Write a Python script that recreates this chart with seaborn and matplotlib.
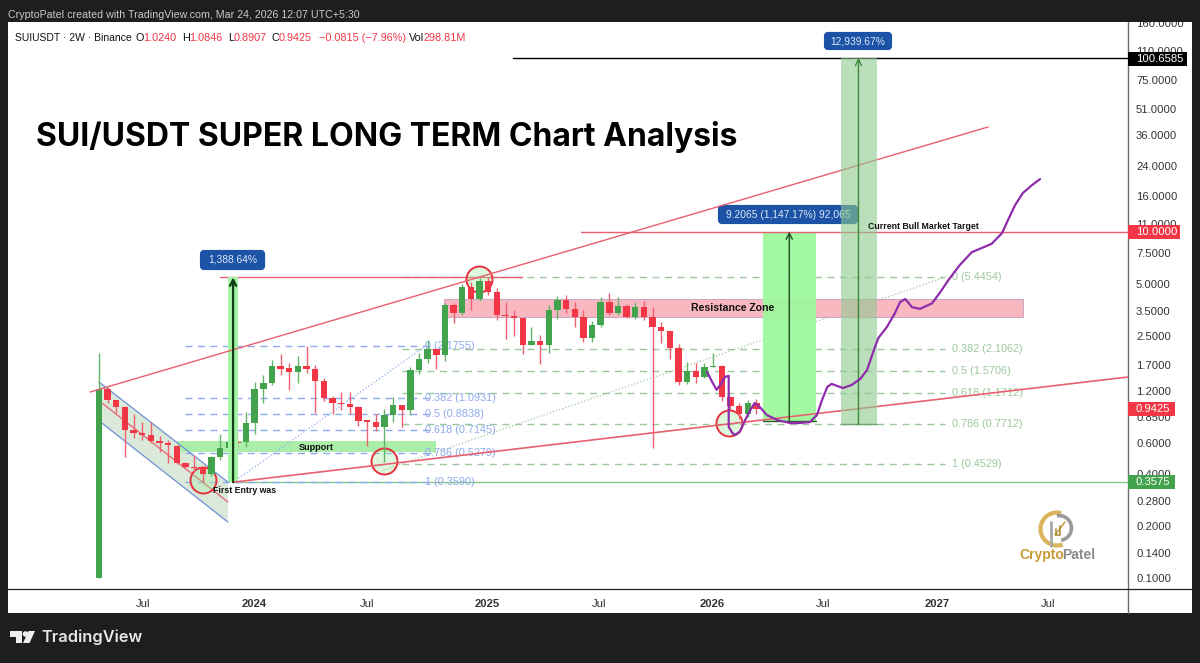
import matplotlib
matplotlib.use("Agg")
import matplotlib.pyplot as plt
import seaborn as sns
from matplotlib.patches import Rectangle, FancyBboxPatch, Polygon, Arc, Circle
from matplotlib.lines import Line2D
from matplotlib.transforms import Affine2D

# ---- candle data (2W bars) ----
opens = [0.10,1.23,1.07,0.97,0.715,0.69,0.67,0.62,0.60,0.58,0.46,0.44,0.44,0.40,0.50,0.565,0.61,0.61,0.78,1.24,1.33,1.67,1.63,1.55,1.67,1.62,1.37,1.10,1.03,1.01,0.97,0.81,0.80,0.745,0.87,1.0,0.93,1.59,1.83,2.10,1.94,3.77,3.4,4.8,4.1,5.2,4.45,3.3,3.25,3.15,2.2,2.33,2.2,3.53,4.03,3.57,3.2,2.42,2.89,3.9,3.4,3.7,3.2,3.65,3.2,2.8,2.65,2.13,1.35,1.57,1.45,1.66,1.68,1.11,0.98,0.885,1.024]
highs = [2.0,1.26,1.07,0.99,0.89,0.80,0.80,0.66,0.626,0.586,0.465,0.51,0.44,0.505,0.68,0.72,0.72,0.91,1.35,1.49,1.81,1.97,1.75,1.91,2.18,1.70,1.43,1.13,1.18,1.18,0.99,0.82,0.89,0.95,1.11,1.0,1.65,1.99,2.37,2.12,3.85,3.85,4.95,5.15,5.4,5.45,4.75,3.9,3.53,3.17,2.8,2.53,3.77,4.25,4.3,3.9,3.53,3.03,4.2,4.4,4.2,3.8,3.9,3.95,3.65,3.0,2.67,2.25,1.77,1.75,1.75,1.99,1.70,1.12,1.02,1.06,1.0846]
lows = [0.10,1.03,0.90,0.50,0.64,0.626,0.60,0.535,0.46,0.455,0.43,0.41,0.36,0.39,0.48,0.53,0.555,0.57,0.68,1.03,1.30,1.49,1.22,1.34,1.52,0.90,1.05,0.89,0.93,0.89,0.75,0.58,0.71,0.47,0.80,0.745,0.87,1.51,1.75,1.62,1.79,2.95,3.3,3.53,4.0,4.3,3.09,2.4,2.5,1.97,2.2,1.72,2.0,3.13,3.4,2.8,2.3,2.3,2.8,3.3,3.3,3.17,3.13,3.09,0.56,2.27,1.83,1.3,1.31,1.34,1.42,1.65,1.05,0.93,0.83,0.85,0.8907]
closes = [1.23,1.07,0.97,0.715,0.69,0.67,0.62,0.60,0.586,0.46,0.44,0.43,0.40,0.50,0.565,0.61,0.60,0.78,1.24,1.33,1.67,1.62,1.55,1.67,1.62,1.37,1.10,1.03,1.01,0.97,0.81,0.80,0.745,0.87,1.0,0.93,1.59,1.83,2.1,1.94,3.77,3.4,4.8,4.1,5.2,4.45,3.3,3.25,3.15,2.2,2.33,2.2,3.53,4.03,3.57,3.2,2.42,2.89,3.9,3.4,3.7,3.2,3.65,3.2,2.8,2.65,2.13,1.35,1.57,1.45,1.66,1.68,1.11,0.98,0.885,1.03,0.9425]

# ---- axis ticks ----
price_ticks = [160,110,75,51,36,24,16,11,7.5,5,3.5,2.5,1.7,1.2,0.85,0.6,0.4,0.28,0.2,0.14,0.1]
time_ticks = [5.09,17.9,31.0,44.9,57.8,70.9,83.7,96.9,109.7]
time_labels = ["Jul","2024","Jul","2025","Jul","2026","Jul","2027","Jul"]
time_bold = ["2024","2025","2026","2027"]

# ---- fibonacci levels ----
fib_blue_ratio = ["0","0.382","0.5","0.618","0.786","1"]
fib_blue_price = [2.1755,1.0931,0.8838,0.7145,0.5279,0.3590]
fib_green_ratio = ["0","0.382","0.5","0.618","0.786","1"]
fib_green_price = [5.4454,2.1062,1.5706,1.1712,0.7712,0.4529]

# ---- purple projection ----
proj_x = [70.3,70.9,71.4,71.8,72.4,72.8,72.8,73.2,73.5,74.1,74.7,75.3,75.8,76.4,77.2,78.4,79.9,81.0,82.2,83.0,83.6,84.2,84.7,86.0,87.0,88.0,88.8,89.5,90.1,91.1,92.0,92.6,93.2,94.0,94.9,96.3,97.2,98.2,99.5,100.9,103.2,104.4,105.1,105.9,106.8,107.9,108.8]
proj_y = [1.55,1.35,1.22,1.30,1.45,1.47,0.745,0.69,0.669,0.70,0.817,0.933,1.024,0.97,0.873,0.817,0.785,0.785,0.795,0.873,1.07,1.27,1.32,1.25,1.30,1.41,1.59,2.02,2.43,2.82,3.37,3.91,4.08,3.66,3.58,3.85,4.43,5.25,6.4,7.6,8.5,9.8,11.7,14.2,16.7,18.6,20.1]

# ---- circles ----
circle_x = [12.0,32.9,43.9,72.8]
circle_y = [0.368,0.473,5.3,0.785]

GREEN = "#43a34c"
RED = "#f23645"
BLUE_FIB = "#8ea9ec"
GREEN_FIB = "#9cc79c"
LINE_RED = "#e8606e"
TEXT = "#333333"
DARK = "#1e1e1e"
FONT = "Liberation Sans"

sns.set_theme(style="white")
plt.rcParams["font.family"] = [FONT, "DejaVu Sans"]

W, H = 1200, 663
fig = plt.figure(figsize=(W/100, H/100), dpi=100, facecolor=DARK)
px = Affine2D().scale(1, -1).translate(0, H)

fig.add_artist(Rectangle((8, 22), 1184, 591, transform=px, fc="white", ec="none", zorder=-2))
ax = fig.add_axes([8/W, 1-589/H, 1120/W, 567/H], facecolor="none")
ax.set_yscale("log")
ax.set_xlim(-10.52, 118.96)
ax.set_ylim(0.0864, 162.2)
for s in ax.spines.values():
    s.set_visible(False)
ax.yaxis.tick_right()
ax.set_yticks(price_ticks)
ax.set_yticklabels([f"{v:.4f}" for v in price_ticks])
ax.minorticks_off()
ax.tick_params(axis="y", length=0, pad=5.8, labelsize=8.1, labelcolor=TEXT)
ax.set_xticks(time_ticks)
ax.set_xticklabels(time_labels)
ax.tick_params(axis="x", length=0, pad=7, labelsize=8.1, labelcolor=TEXT)
for lab in ax.get_xticklabels():
    if lab.get_text() in time_bold:
        lab.set_fontweight("bold")
ax.grid(False)

# channel
ax.fill([0, 14.9, 14.9, 0.35], [1.354, 0.358, 0.2105, 0.783], color="#dbe9da", lw=0, zorder=1)
ax.plot([0, 14.9], [1.354, 0.358], color="#6f8fd8", lw=0.9, zorder=2)
ax.plot([0.35, 14.9], [0.783, 0.2105], color="#6f8fd8", lw=0.9, zorder=2)
ax.plot([0.35, 14.9], [1.024, 0.2747], color=LINE_RED, lw=0.9, zorder=2)

# zones
ax.fill_between([9.0, 39.0], 0.534, 0.618, color="#aaeeaa", lw=0, zorder=1.2)
ax.fill_between([39.9, 106.8], 3.21, 4.08, facecolor="#f9b3bc", edgecolor="#c9a6c4", lw=0.8, alpha=0.95, zorder=2.2)
ax.text(25.1, 0.570, "Support", fontsize=6.6, fontweight="bold", color="#111111", ha="center", va="center", zorder=6)
ax.text(73.3, 3.62, "Resistance Zone", fontsize=7.6, fontweight="bold", color="#111111", ha="center", va="center", zorder=6)

# fib levels
ax.hlines(fib_blue_price, 9.9, 38.3, color=BLUE_FIB, lw=1, linestyles=(0, (5, 4)), zorder=1.5)
ax.hlines(fib_green_price, 35.0, 97.8, color=GREEN_FIB, lw=1, linestyles=(0, (5, 4)), zorder=1.5)
for r, p in zip(fib_blue_ratio, fib_blue_price):
    ax.text(37.7, p, f"{r} ({p:.4f})", fontsize=7.8, color=BLUE_FIB, va="center", zorder=1.6)
for r, p in zip(fib_green_ratio, fib_green_price):
    ax.text(98.6, p, f"{r} ({p:.4f})", fontsize=7.8, color=GREEN_FIB, va="center", zorder=1.6)
ax.plot([15.5, 37.7], [0.3575, 2.1755], color=BLUE_FIB, lw=0.9, ls=":", zorder=1.5)
ax.plot([32.9, 97.8], [0.42, 5.4454], color=GREEN_FIB, lw=0.9, ls=":", zorder=1.5)

# horizontals & wedge lines
ax.plot([14.0, 48.9], [5.4454, 5.4454], color=LINE_RED, lw=1, zorder=2)
ax.plot([47.9, 118.96], [100.6585, 100.6585], color="black", lw=1, zorder=5)
ax.plot([55.7, 118.96], [10, 10], color=LINE_RED, lw=1, zorder=5)
ax.plot([15.5, 118.96], [0.3575, 0.3575], color="#8cc68c", lw=1, zorder=1.4)
ax.plot([-1.04, 102.8], [1.185, 40.2], color=LINE_RED, lw=1, zorder=5)
ax.plot([15.5, 118.96], [0.3575, 1.447], color=LINE_RED, lw=1.2, zorder=5)

# candles
xs = list(range(len(opens)))
cols = [GREEN if c >= o else RED for o, c in zip(opens, closes)]
wick_cols = ["#63b56a" if c >= o else "#f0616f" for o, c in zip(opens, closes)]
ax.vlines(xs, lows, highs, colors=wick_cols, lw=1, zorder=3)
ax.bar(xs, [max(abs(c-o), 0.015*o) for o, c in zip(opens, closes)],
       bottom=[min(o, c) for o, c in zip(opens, closes)],
       width=0.74, color=cols, lw=0, zorder=3.2)

# measure boxes
ax.fill_between([14.9, 16.1], 0.3575, 5.4454, color="#a5f3a5", lw=0, zorder=3.5)
ax.fill_between([76.8, 82.9], 0.806, 10, color="#9df99d", lw=0, alpha=0.95, zorder=3.5)
ax.fill_between([85.8, 89.9], 0.7712, 100.6585, color="#8fcb8f", lw=0, alpha=0.6, zorder=7)
ax.plot([76.8, 82.9], [0.806, 0.806], color="#2e5d2e", lw=1, zorder=3.6)
ax.plot([85.8, 89.9], [0.7712, 0.7712], color="#6aa56a", lw=1, zorder=7)
for x, lo, hi, c, lw in [(15.5, 0.3575, 5.4454, "#123d16", 1.6), (79.8, 0.806, 10, "#1d4d1d", 1), (87.8, 0.7712, 100.6585, "#3b8a3b", 1)]:
    ax.annotate("", xy=(x, hi), xytext=(x, lo), zorder=7.5,
                arrowprops=dict(arrowstyle="->", color=c, lw=lw, shrinkA=0, shrinkB=0, mutation_scale=11))

# circles
sns.scatterplot(x=circle_x, y=circle_y, s=350, color="#b5f0b5", edgecolor="#e8303f", linewidth=1.4, ax=ax, zorder=2.6, legend=False)
ax.collections[-1].set_facecolor((0.62, 0.93, 0.62, 0.35))

# projection
sns.lineplot(x=proj_x, y=proj_y, sort=False, estimator=None, color="#8e2cab", lw=1.6, ax=ax, zorder=8, legend=False)

ax.text(13.2, 0.322, "First Entry was", fontsize=6.3, fontweight="bold", color="#111111", va="center", zorder=6)
ax.text(88.9, 10.77, "Current Bull Market Target", fontsize=6.3, fontweight="bold", color="#111111", va="center", zorder=7)

# frame
fig.add_artist(Line2D([1128, 1128], [22, 613], transform=px, color="#6b6b6b", lw=1, zorder=2))
fig.add_artist(Line2D([8, 1192], [589, 589], transform=px, color="#222222", lw=0.9, zorder=2))
fig.add_artist(Rectangle((0, 0), W, 22, transform=px, fc=DARK, ec="none", zorder=3))
fig.add_artist(Rectangle((1192, 0), 8, H, transform=px, fc=DARK, ec="none", zorder=3))

def t(x, y, s, **kw):
    kw.setdefault("va", "center")
    kw.setdefault("zorder", 6)
    fig.text(x, y, s, transform=px, **kw)

t(8, 14.5, "CryptoPatel created with TradingView.com, Mar 24, 2026 12:07 UTC+5:30", fontsize=7.65, color="#c9c9c9")
t(15, 38, "SUIUSDT · 2W · Binance", fontsize=7.5, color="#111111")
for x, s, c in [(136,"O","#111111"),(143,"1.0240",RED),(182,"H","#111111"),(189,"1.0846",RED),(228,"L","#111111"),(234,"0.8907",RED),
                (272,"C","#111111"),(279,"0.9425",RED),(319,"−0.0815 (−7.96%)",RED),(409,"Vol","#111111"),(424,"298.81M",RED)]:
    t(x, 38, s, fontsize=7.8, color=c)

t(36, 137, "SUI/USDT SUPER LONG TERM Chart Analysis", fontsize=23, fontweight="bold", family="Inter", color="black", zorder=6)

# price tags
for x0, y0, x1, y1, s, c in [(1128,52,1187,66,"100.6585","#000000"),(1128,225,1180,239,"10.0000","#f23645"),
                             (1128,402,1175,416,"0.9425","#f23645"),(1128,475,1175,489,"0.3575","#43a34c")]:
    fig.add_artist(Rectangle((x0, y0), x1-x0, y1-y0, transform=px, fc=c, ec="none", zorder=4))
    t(1136, (y0+y1)/2, s, fontsize=8.1, color="white")

# measure labels
for x0, y0, x1, y1, s in [(200,250,265,270,"1,388.64%"),(718,205,858,224,"9.2065 (1,147.17%) 92,065"),(824,32,892,50,"12,939.67%")]:
    fig.add_artist(FancyBboxPatch((x0+2, y0+2), x1-x0-4, y1-y0-4, boxstyle="round,pad=0,rounding_size=2", mutation_aspect=1,
                                  transform=px, fc="#1c53a6", ec="#1c53a6", lw=3, zorder=1))
    t((x0+x1)/2, (y0+y1)/2, s, fontsize=7.4, color="#dce8f8", ha="center", zorder=1.5)
ax.set_zorder(2)

# CryptoPatel logo
fig.add_artist(Arc((1057, 529), 33, 33, theta1=70, theta2=285, transform=px, color="#d9b45a", lw=3, zorder=4))
fig.add_artist(Arc((1059, 528), 25, 25, theta1=-100, theta2=80, transform=px, color="#9a9a9a", lw=2.6, zorder=4))
fig.add_artist(Line2D([1051, 1051], [522, 546], transform=px, color="#a8a8a8", lw=2, zorder=4))
fig.add_artist(Line2D([1055, 1065], [535, 522], transform=px, color="#c9a24a", lw=1.2, zorder=4))
fig.add_artist(Line2D([1056, 1056, 1060, 1060], [529, 535, 535, 526], transform=px, color="#b08d3c", lw=1.2, zorder=4))
t(1019, 555, "Crypto", fontsize=10, fontweight="bold", color="#c99a35")
t(1062, 555, "Patel", fontsize=10, fontweight="bold", color="#8a8a8a")

# TradingView footer
fig.add_artist(Polygon([(10,631),(22,631),(22,643),(16,643),(16,637),(10,637)], transform=px, fc="#eeeeee", ec="none", zorder=4))
fig.add_artist(Circle((25.5,634), 2.8, transform=px, fc="#eeeeee", ec="none", zorder=4))
fig.add_artist(Polygon([(28.5,631),(35,631),(29.5,643),(23,643)], transform=px, fc="#eeeeee", ec="none", zorder=4))
t(41, 637.5, "TradingView", fontsize=11.8, fontweight="semibold", family="Inter", color="#e6e6e6")

fig.savefig("out.png", dpi=100, facecolor=DARK)
